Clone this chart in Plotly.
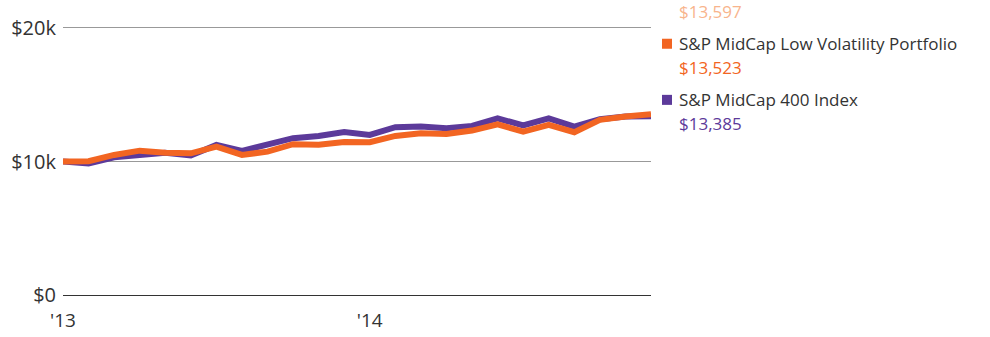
import plotly.graph_objects as go

months = ["2013-01","2013-02","2013-03","2013-04","2013-05","2013-06","2013-07","2013-08",
          "2013-09","2013-10","2013-11","2013-12","2014-01","2014-02","2014-03","2014-04",
          "2014-05","2014-06","2014-07","2014-08","2014-09","2014-10","2014-11","2014-12"]
low_vol = [10000, 10020, 10490, 10810, 10660, 10610, 11110, 10490,
           10740, 11290, 11260, 11460, 11440, 11910, 12110, 12060,
           12310, 12780, 12230, 12730, 12190, 13110, 13360, 13523]
midcap400 = [10000, 9860, 10310, 10490, 10660, 10450, 11240, 10790,
             11240, 11740, 11910, 12210, 11990, 12560, 12610, 12480,
             12660, 13230, 12690, 13230, 12610, 13160, 13360, 13385]
y_tickvals = [0, 10000, 20000]
y_ticktext = ["$0", "$10k", "$20k"]
x_tickvals = ["2013-01", "2014-01"]
x_ticktext = ["'13", "'14"]
legend_names = ["S&P MidCap Low Volatility Index", "S&P MidCap Low Volatility Portfolio", "S&P MidCap 400 Index"]
legend_values = ["$13,597", "$13,523", "$13,385"]
legend_colors = ["#F8B48C", "#F26522", "#5C3A9A"]

FONT = "Open Sans"
fig = go.Figure()
fig.add_trace(go.Scatter(x=months, y=midcap400, mode="lines",
                         line=dict(color="#5C3A9A", width=6), name=legend_names[2]))
fig.add_trace(go.Scatter(x=months, y=low_vol, mode="lines",
                         line=dict(color="#F26522", width=6), name=legend_names[1]))

W, H = 990, 337
L, R = 63, 339
T, B = 25.3, 39.3
pw, ph = W - L - R, H - T - B

def px_x(x):
    return (x - L) / pw

def py(y):
    return (H - B - y) / ph

entry_y = [-12, 44, 100]
for i in range(3):
    yl = entry_y[i]
    fig.add_shape(type="rect", xref="paper", yref="paper",
                  x0=px_x(662), x1=px_x(672), y0=py(yl + 5), y1=py(yl - 5),
                  fillcolor=legend_colors[i], line=dict(width=0))
    fig.add_annotation(xref="paper", yref="paper", x=px_x(677), y=py(yl),
                       text=legend_names[i], showarrow=False, xanchor="left", yanchor="middle",
                       font=dict(family=FONT, size=17, color="#333333"))
    fig.add_annotation(xref="paper", yref="paper", x=px_x(677), y=py(yl + 24),
                       text=legend_values[i], showarrow=False, xanchor="left", yanchor="middle",
                       font=dict(family=FONT, size=17, color=legend_colors[i]))

fig.update_layout(
    width=W, height=H, margin=dict(l=L, r=R, t=T, b=B, autoexpand=False),
    paper_bgcolor="white", plot_bgcolor="white", showlegend=False,
    font=dict(family=FONT, color="#333333"),
    xaxis=dict(type="category", categoryorder="array", categoryarray=months,
               range=[0, len(months) - 1], tickvals=x_tickvals, ticktext=x_ticktext,
               showgrid=False, zeroline=False, showline=False, automargin=False,
               ticks="outside", ticklen=5, tickcolor="rgba(0,0,0,0)",
               tickfont=dict(family=FONT, size=19, color="#333333")),
    yaxis=dict(range=[-200, 20200], tickvals=y_tickvals, ticktext=y_ticktext,
               showgrid=True, gridcolor="#999999", gridwidth=1.3,
               zeroline=True, zerolinecolor="#333333", zerolinewidth=1.3,
               showline=False, ticks="", ticklabelstandoff=6, automargin=False,
               tickfont=dict(family=FONT, size=20, color="#333333")),
)
fig.write_html("out.html")
